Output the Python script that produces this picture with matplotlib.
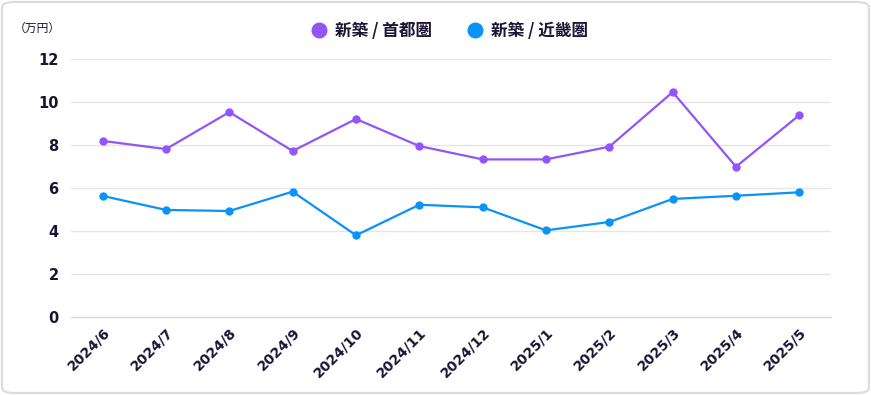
import matplotlib
matplotlib.use("Agg")
import matplotlib.pyplot as plt
from matplotlib.patches import FancyBboxPatch
from matplotlib.lines import Line2D

months = ["2024/6", "2024/7", "2024/8", "2024/9", "2024/10", "2024/11",
          "2024/12", "2025/1", "2025/2", "2025/3", "2025/4", "2025/5"]
tokyo = [8.19, 7.81, 9.53, 7.72, 9.21, 7.95, 7.33, 7.33, 7.92, 10.46, 6.99, 9.39]
kinki = [5.63, 4.98, 4.93, 5.83, 3.80, 5.22, 5.10, 4.03, 4.42, 5.49, 5.64, 5.80]
series_names = ["新築 / 首都圏", "新築 / 近畿圏"]
yticks = [0, 2, 4, 6, 8, 10, 12]

PURPLE = "#9255F7"
BLUE = "#0A93F7"
TEXT = "#1B1433"

plt.rcParams['font.family'] = ['Noto Sans CJK JP', 'DejaVu Sans']

W, H = 871, 395
fig = plt.figure(figsize=(W / 100, H / 100), dpi=100)

# rounded border
border = FancyBboxPatch((2 / W, 2 / H), (W - 4) / W, (H - 4) / H,
                        boxstyle="round,pad=0,rounding_size=0.014",
                        transform=fig.transFigure, facecolor="white",
                        edgecolor="#DCDCDC", linewidth=1.6, zorder=-10)
fig.patches.append(border)

left, right = 71 / W, 831 / W
bottom, top = 1 - 317 / H, 1 - 59 / H
ax = fig.add_axes([left, bottom, right - left, top - bottom])
ax.set_facecolor("none")
ax.set_zorder(5)

x = list(range(len(months)))
ax.plot(x, tokyo, color=PURPLE, lw=1.6, marker="o", ms=5, zorder=3, clip_on=False)
ax.plot(x, kinki, color=BLUE, lw=1.6, marker="o", ms=5, zorder=3, clip_on=False)

ax.set_xlim(-0.5, len(months) - 0.5)
ax.set_ylim(0, 12)
ax.set_yticks(yticks)
ax.set_yticklabels([str(v) for v in yticks], fontfamily="DejaVu Sans",
                   fontweight="bold", fontsize=10.5, color=TEXT)
ax.set_xticks(x)
ax.set_xticklabels(months, rotation=45, ha="right", rotation_mode="anchor",
                   fontfamily="DejaVu Sans", fontweight="bold", fontsize=10,
                   color=TEXT)
ax.tick_params(axis="both", length=0)
ax.tick_params(axis="y", pad=9)
ax.tick_params(axis="x", pad=6)
ax.grid(axis="y", color="#E6E6E6", lw=1)
ax.set_axisbelow(True)
for s in ["top", "right", "left"]:
    ax.spines[s].set_visible(False)
ax.spines["bottom"].set_color("#D8D8DE")
ax.spines["bottom"].set_linewidth(1)

fig.text(14 / W, 1 - 28 / H, "（万円）", fontsize=8.5, color=TEXT,
         ha="left", va="center")

handles = [Line2D([], [], ls="none", marker="o", ms=10.5, color=PURPLE),
           Line2D([], [], ls="none", marker="o", ms=10.5, color=BLUE)]
fig.legend(handles, series_names, loc="center", bbox_to_anchor=(448 / W, 1 - 31 / H),
           ncol=2, frameon=False, prop={"weight": "bold", "size": 12},
           handletextpad=0.3, columnspacing=1.9, handlelength=1.3, labelcolor=TEXT)

fig.savefig("out.png", dpi=100)
